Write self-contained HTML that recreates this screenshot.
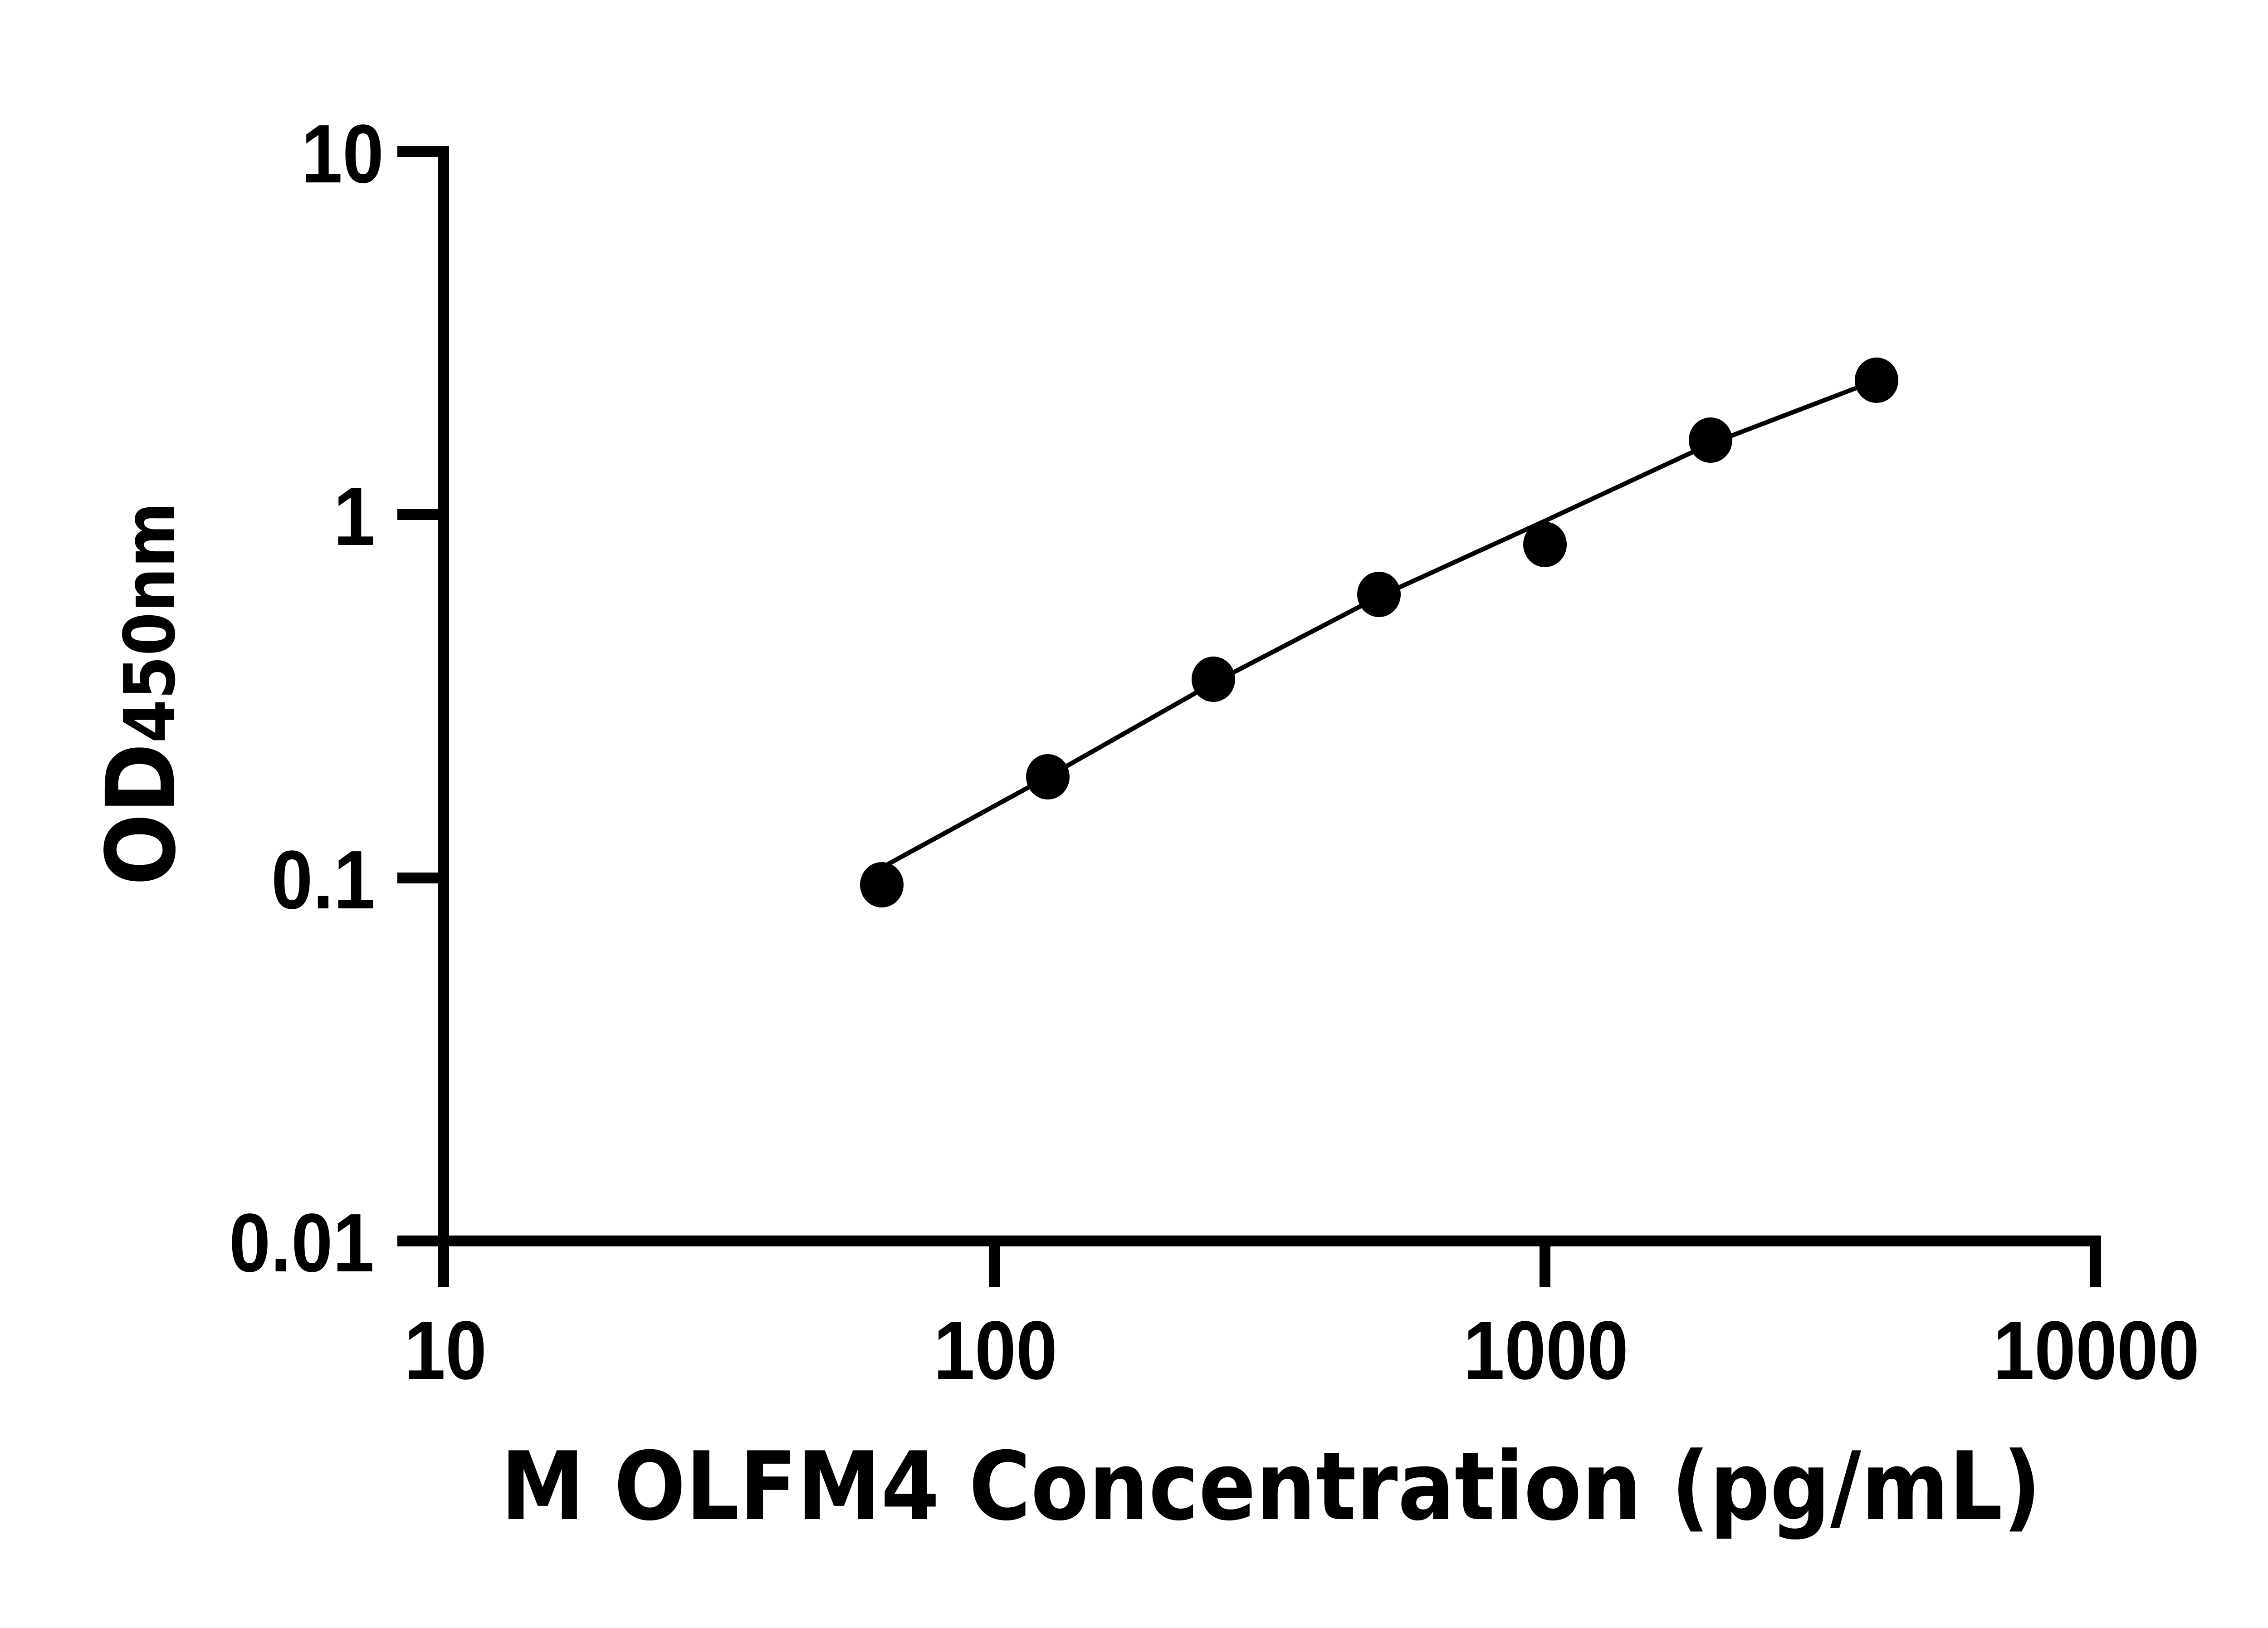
<!DOCTYPE html>
<html><head><meta charset="utf-8"><style>html,body{margin:0;padding:0;background:#fff}svg{display:block}
.t{font-family:"Liberation Sans",Arial,sans-serif;font-weight:bold;font-size:183px;fill:#000}
.d{font-family:"DejaVu Sans",sans-serif;font-weight:bold;fill:#000}</style></head>
<body>
<svg width="5130" height="3588" viewBox="0 0 5130 3588" xmlns="http://www.w3.org/2000/svg">
<rect width="5130" height="3588" fill="#fff"/>
<g stroke="#000" stroke-width="24" fill="none" stroke-linecap="butt">
<line x1="978" y1="322" x2="978" y2="2837"/>
<line x1="966" y1="2735" x2="4632" y2="2735"/>
<line x1="876" y1="334" x2="978" y2="334"/>
<line x1="876" y1="1134" x2="978" y2="1134"/>
<line x1="876" y1="1935" x2="978" y2="1935"/>
<line x1="876" y1="2735" x2="978" y2="2735"/>
<line x1="2192" y1="2735" x2="2192" y2="2837"/>
<line x1="3406" y1="2735" x2="3406" y2="2837"/>
<line x1="4620" y1="2735" x2="4620" y2="2837"/>
</g>
<polyline fill="none" stroke="#000" stroke-width="10" points="1944,1912 2310,1712 2675,1505 3040,1315 3406,1148 3771,978 4137,838"/>
<g fill="#000">
<ellipse cx="1944" cy="1950" rx="48" ry="50"/>
<ellipse cx="2310" cy="1712" rx="48" ry="50"/>
<ellipse cx="2675" cy="1497" rx="48" ry="50"/>
<ellipse cx="3040" cy="1310" rx="48" ry="50"/>
<ellipse cx="3406" cy="1200" rx="48" ry="50"/>
<ellipse cx="3771" cy="970" rx="48" ry="50"/>
<ellipse cx="4137" cy="838" rx="48" ry="50"/>
</g>
<text class="t" x="664" y="402" textLength="182" lengthAdjust="spacingAndGlyphs">10</text>
<text class="t" x="735" y="1201" textLength="92" lengthAdjust="spacingAndGlyphs">1</text>
<text class="t" x="598" y="2002" textLength="229" lengthAdjust="spacingAndGlyphs">0.1</text>
<text class="t" x="505" y="2802" textLength="320" lengthAdjust="spacingAndGlyphs">0.01</text>
<text class="t" x="891" y="3039" textLength="182" lengthAdjust="spacingAndGlyphs">10</text>
<text class="t" x="2058" y="3039" textLength="273" lengthAdjust="spacingAndGlyphs">100</text>
<text class="t" x="3226" y="3039" textLength="364" lengthAdjust="spacingAndGlyphs">1000</text>
<text class="t" x="4394" y="3039" textLength="455" lengthAdjust="spacingAndGlyphs">10000</text>
<text class="d" x="1104" y="3348" font-size="208" textLength="3396" lengthAdjust="spacingAndGlyphs">M OLFM4 Concentration (pg/mL)</text>
<text class="d" transform="translate(384,1952) rotate(-90)" textLength="845" lengthAdjust="spacingAndGlyphs"><tspan font-size="210">OD</tspan><tspan font-size="155">450nm</tspan></text>
</svg>
</body></html>
